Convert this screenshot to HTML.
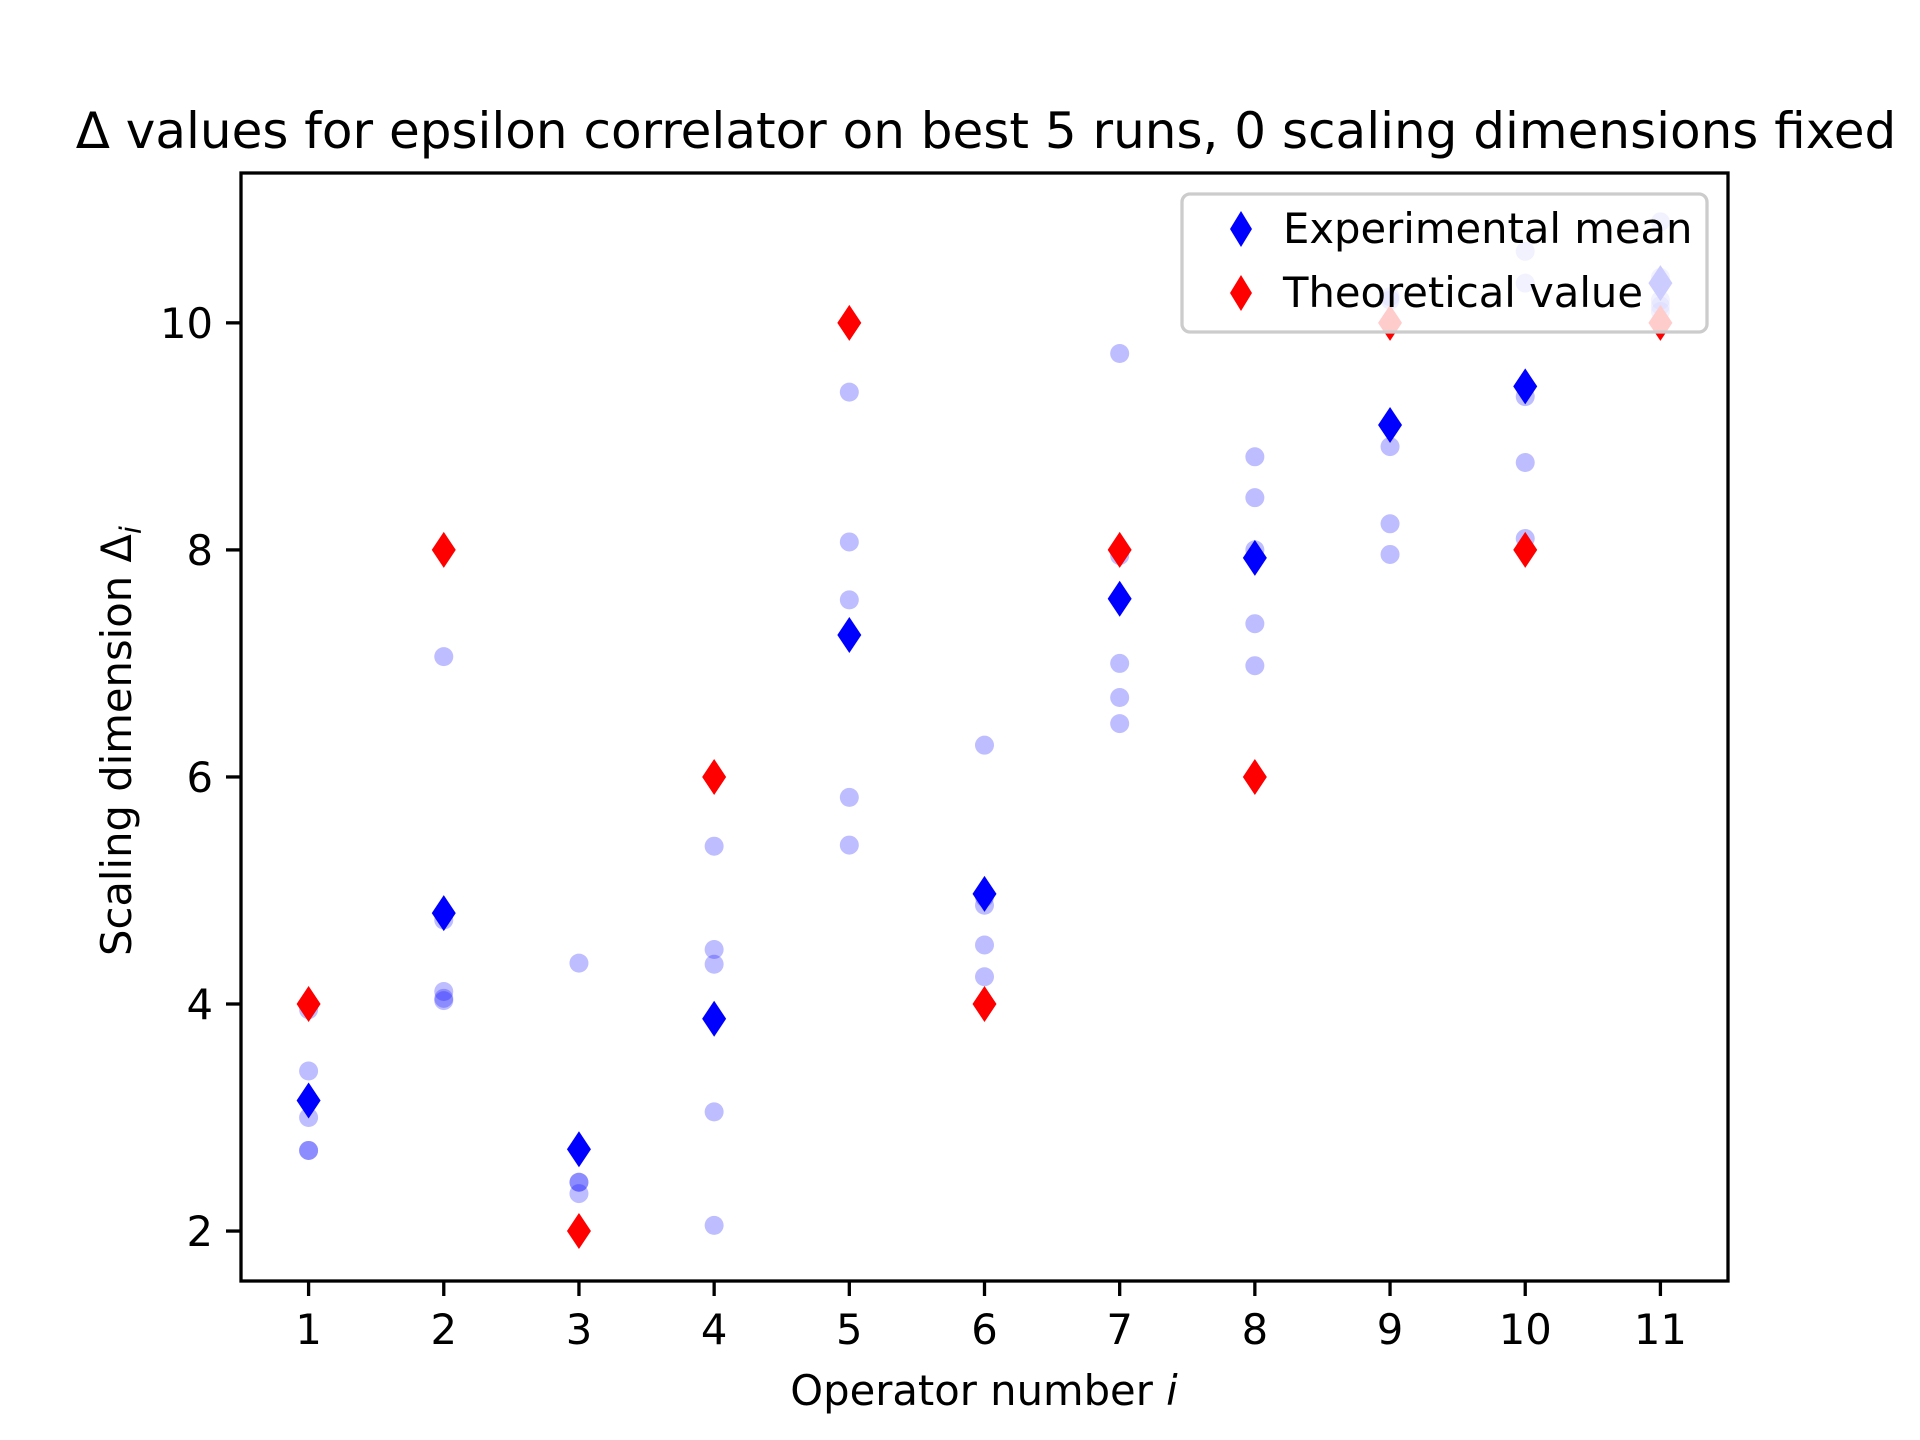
<!DOCTYPE html>
<html><head><meta charset="utf-8"><style>
html,body{margin:0;padding:0;background:#fff;}
svg{display:block;font-family:"DejaVu Sans","Liberation Sans",sans-serif;}
</style></head><body>
<svg id="chart" width="1920" height="1440" viewBox="0 0 1920 1440" xmlns="http://www.w3.org/2000/svg">
<rect width="1920" height="1440" fill="#fff"/>
<text x="986" y="148" font-size="50" text-anchor="middle">Δ values for epsilon correlator on best 5 runs, 0 scaling dimensions fixed</text>
<g id="points"></g>
<g id="axes"></g>
<text x="984" y="1405" font-size="41.7" text-anchor="middle">Operator number <tspan font-style="italic">i</tspan></text>
<text transform="translate(131,741) rotate(-90)" font-size="41.7" text-anchor="middle">Scaling dimension Δ<tspan font-style="italic" font-size="29" dy="10">i</tspan></text>
<g>
<rect x="1182" y="194" width="525" height="138" rx="8" fill="rgba(255,255,255,0.8)" stroke="#cccccc" stroke-width="3.3"/>
<path d="M1241 211 L1252 229 L1241 247 L1230 229 Z" fill="#0000ff"/>
<text x="1283" y="243" font-size="41.7">Experimental mean</text>
<path d="M1241 275 L1252 293 L1241 311 L1230 293 Z" fill="#ff0000"/>
<text x="1283" y="307" font-size="41.7">Theoretical value</text>
</g>
</svg>
<script>
const operators = [1,2,3,4,5,6,7,8,9,10,11];
const theoretical = [4,8,2,6,10,4,8,6,10,8,10];
const expMean = [3.15,4.8,2.72,3.87,7.25,4.97,7.57,7.93,9.1,9.44,10.35];
const runValues = [
  [3.95,3.41,3.0,2.71,2.71],
  [7.06,4.74,4.11,4.05,4.03],
  [4.36,2.43,2.43,2.33,2.0],
  [5.39,4.48,4.35,3.05,2.05],
  [9.39,8.07,7.56,5.82,5.40],
  [6.28,4.87,4.52,4.24,4.94],
  [9.73,7.95,7.0,6.70,6.47],
  [8.82,8.46,8.0,7.35,6.98],
  [10.23,10.2,8.91,8.23,7.96],
  [10.63,10.35,9.35,8.77,8.10],
  [10.89,10.4,10.2,10.15,10.1]
];
const xTicks = [1,2,3,4,5,6,7,8,9,10,11];
const yTicks = [2,4,6,8,10];

const NS = "http://www.w3.org/2000/svg";
const L = 241, R = 1728, T = 173, B = 1281;
const xMin = 0.5, xMax = 11.5, yMin = 1.56, yMax = 11.32;
function xs(v){ return L + (v - xMin) / (xMax - xMin) * (R - L); }
function ys(v){ return B - (v - yMin) / (yMax - yMin) * (B - T); }
function mk(tag, attrs, parent){
  const e = document.createElementNS(NS, tag);
  for (const k in attrs) e.setAttribute(k, attrs[k]);
  parent.appendChild(e);
  return e;
}
function diamond(x, y){ return `M${x} ${y-18} L${x+12} ${y} L${x} ${y+18} L${x-12} ${y} Z`; }

const pts = document.getElementById('points');
runValues.forEach((arr, i) => {
  arr.forEach(v => {
    const c = mk('circle', {cx: xs(operators[i]), cy: ys(v), r: 9.5, fill: '#0000ff', 'fill-opacity': 0.26}, pts);
    
    
  });
});
expMean.forEach((v, i) => {
  const p = mk('path', {d: diamond(xs(operators[i]), ys(v)), fill: '#0000ff'}, pts);
  
  
});
theoretical.forEach((v, i) => {
  const p = mk('path', {d: diamond(xs(operators[i]), ys(v)), fill: '#ff0000'}, pts);
  
  
});

const ax = document.getElementById('axes');
const frame = mk('rect', {x: L, y: T, width: R - L, height: B - T, fill: 'none', stroke: '#000', 'stroke-width': 3.3}, ax);


xTicks.forEach(t => {
  const x = xs(t);
  const ln = mk('line', {x1: x, y1: B, x2: x, y2: B + 15, stroke: '#000', 'stroke-width': 3.3}, ax);
  
  
  const tx = mk('text', {x: x, y: B + 63, 'font-size': 41.7, 'text-anchor': 'middle'}, ax);
  tx.textContent = t;
  
  
});
yTicks.forEach(t => {
  const y = ys(t);
  const ln = mk('line', {x1: L - 15, y1: y, x2: L, y2: y, stroke: '#000', 'stroke-width': 3.3}, ax);
  
  
  const tx = mk('text', {x: L - 28, y: y + 15, 'font-size': 41.7, 'text-anchor': 'end'}, ax);
  tx.textContent = t;
  
  
});
</script>
</body></html>
